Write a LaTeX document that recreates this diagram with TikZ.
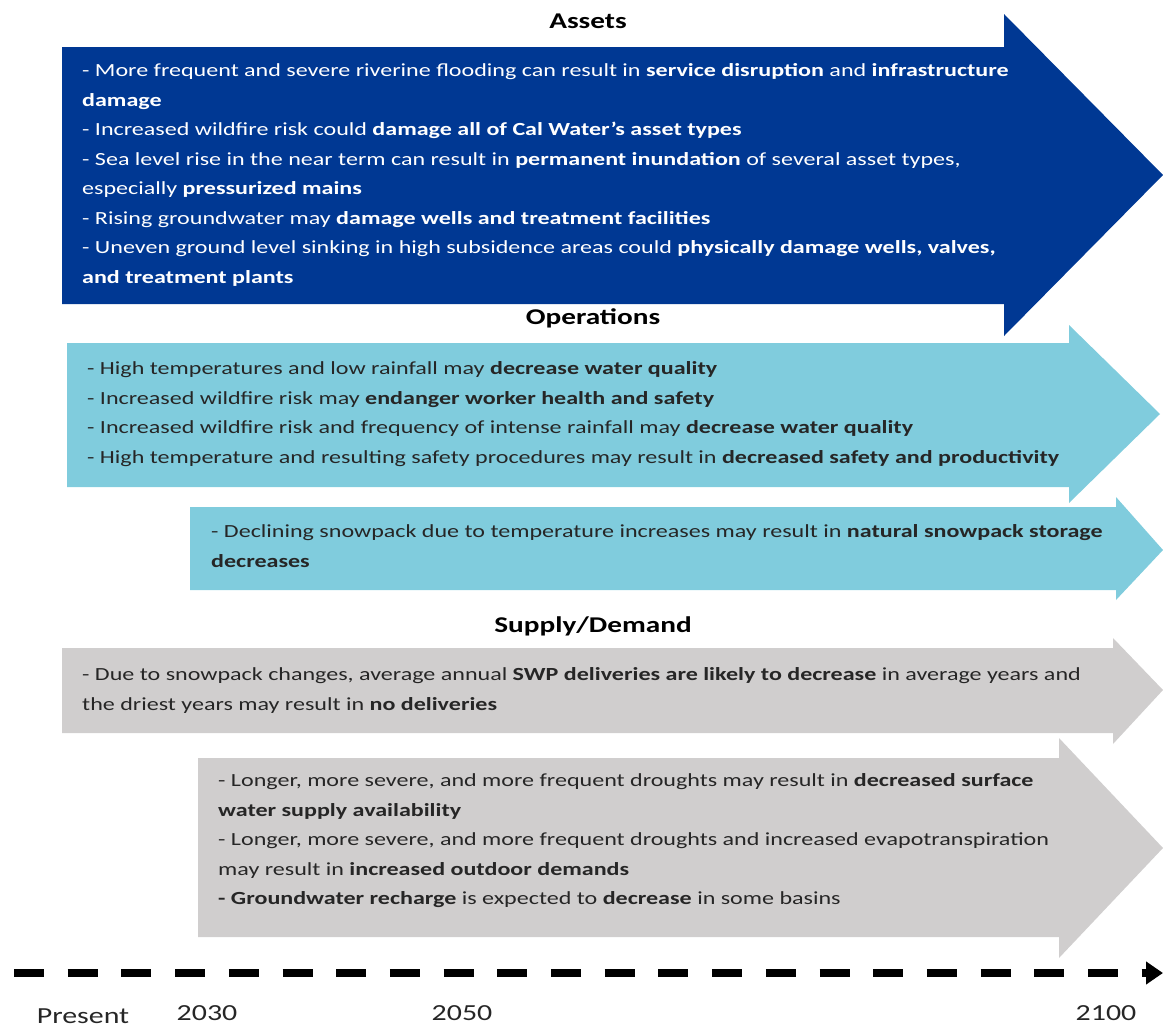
\documentclass[tikz,border=0pt]{standalone}
\usepackage{fontspec}
\setmainfont{Carlito}[FakeStretch=1.3]
\usetikzlibrary{arrows.meta}
\definecolor{assetblue}{RGB}{0,56,147}
\definecolor{opsblue}{RGB}{128,204,221}
\definecolor{supplygray}{RGB}{208,206,206}
\definecolor{darktext}{RGB}{38,38,38}
\tikzset{
  bodytext/.style={anchor=north west, inner sep=0pt, align=left, text=darktext,
    font=\fontsize{18.5}{29.5}\selectfont},
  heading/.style={anchor=base, inner sep=0pt, font=\fontsize{22.5}{27}\selectfont\bfseries},
  yearlabel/.style={anchor=base, inner sep=0pt, text=darktext, font=\fontsize{23}{28}\selectfont},
  timeline/.style={line width=7.5pt, dash pattern=on 30pt off 23.7pt,
    -{Triangle[length=17pt,width=22pt]}}
}
\begin{document}
\begin{tikzpicture}[x=1pt,y=-1pt]
            \useasboundingbox (0,0) rectangle (1163,1028);
            % block arrows
            \fill[assetblue] (62,47) -- (1004,47) -- (1004,14) -- (1163,175) -- (1004,336) -- (1004,304) -- (62,304) -- cycle;
            \fill[opsblue] (67,343) -- (1069,343) -- (1069,325) -- (1160,414) -- (1069,503) -- (1069,487) -- (67,487) -- cycle;
            \fill[opsblue] (190,507) -- (1116,507) -- (1116,497) -- (1163,550) -- (1116,600) -- (1116,590) -- (190,590) -- cycle;
            \fill[supplygray] (62,648) -- (1113,648) -- (1113,638) -- (1163,690) -- (1113,744) -- (1113,733) -- (62,733) -- cycle;
            \fill[supplygray] (198,758) -- (1059,758) -- (1059,738) -- (1163,848) -- (1059,958) -- (1059,937) -- (198,937) -- cycle;

            % headings
            \node[heading] (assets) at (588,28) {Assets};
            \node[heading] (ops) at (593,324) {Operations};
            \node[heading] (supply) at (593,632) {Supply/Demand};

            % Assets
            \node[bodytext, text=white] (assettxt) at (82,63.5) {- More frequent and severe riverine flooding can result in \textbf{service disruption} and \textbf{infrastructure}\\
              \textbf{damage}\\
              - Increased wildfire risk could \textbf{damage all of Cal Water's asset types}\\
              - Sea level rise in the near term can result in \textbf{permanent inundation} of several asset types,\\
              especially \textbf{pressurized mains}\\
              - Rising groundwater may \textbf{damage wells and treatment facilities}\\
              - Uneven ground level sinking in high subsidence areas could \textbf{physically damage wells, valves,}\\
              \textbf{and treatment plants}};

            % Operations
            \node[bodytext] (opstxt) at (87,361.5) {- High temperatures and low rainfall may \textbf{decrease water quality}\\
              - Increased wildfire risk may \textbf{endanger worker health and safety}\\
              - Increased wildfire risk and frequency of intense rainfall may \textbf{decrease water quality}\\
              - High temperature and resulting safety procedures may result in \textbf{decreased safety and productivity}};
            \node[bodytext] (snowtxt) at (211,524.5) {- Declining snowpack due to temperature increases may result in \textbf{natural snowpack storage}\\
              \textbf{decreases}};

            % Supply/Demand
            \node[bodytext] (swptxt) at (82,667.5) {- Due to snowpack changes, average annual \textbf{SWP deliveries are likely to decrease} in average years and\\
              the driest years may result in \textbf{no deliveries}};
            \node[bodytext] (droughttxt) at (218,773.5) {- Longer, more severe, and more frequent droughts may result in \textbf{decreased surface}\\
              \textbf{water supply availability}\\
              - Longer, more severe, and more frequent droughts and increased evapotranspiration\\
              may result in \textbf{increased outdoor demands}\\
              \textbf{- Groundwater recharge} is expected to \textbf{decrease} in some basins};

            % time axis
            \coordinate (t0) at (14,973);
            \coordinate (t1) at (1163,973);
            \draw[timeline] (t0) -- (t1);
            \node[yearlabel] (present) at (83,1023) {Present};
            \node[yearlabel] (y2030) at (207,1020) {2030};
            \node[yearlabel] (y2050) at (462,1020) {2050};
            \node[yearlabel] (y2100) at (1106,1020) {2100};
\end{tikzpicture}
\end{document}
